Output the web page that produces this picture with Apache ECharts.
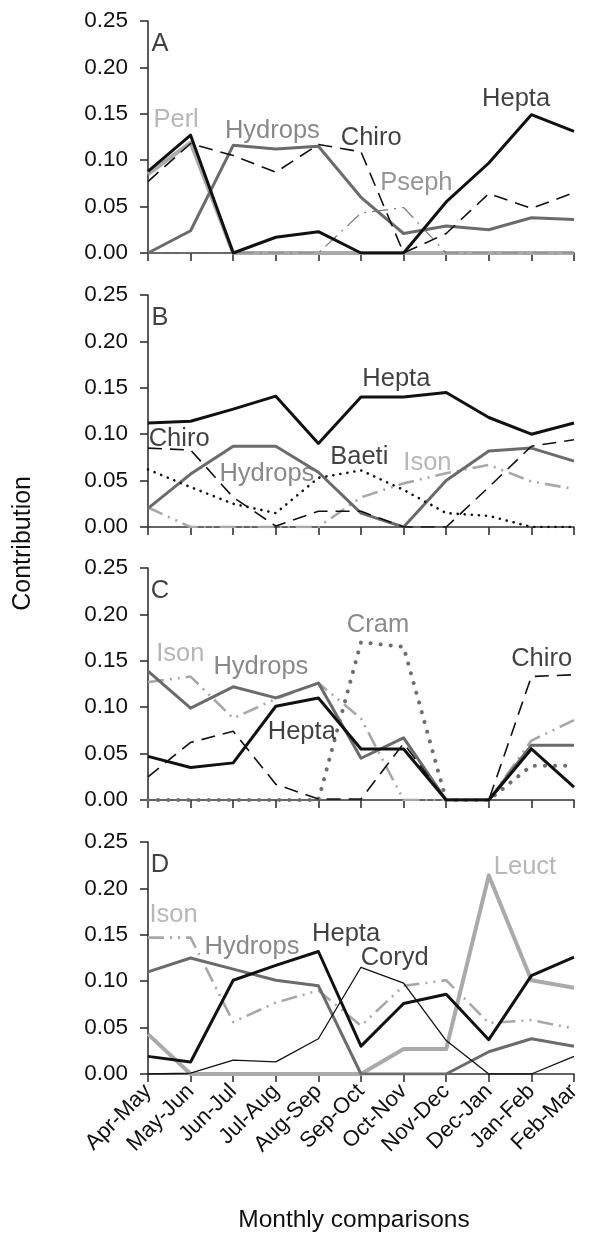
<!DOCTYPE html>
<html>
<head>
<meta charset="utf-8">
<script src="https://cdn.jsdelivr.net/npm/echarts@6/dist/echarts.min.js"></script>
<style>
html,body{margin:0;padding:0;background:#fff;}
#chart{width:592px;height:1237px;}
</style>
</head>
<body>
<div id="chart"></div>
<script>
// ---------- data ----------
const categories = ['Apr-May','May-Jun','Jun-Jul','Jul-Aug','Aug-Sep','Sep-Oct','Oct-Nov','Nov-Dec','Dec-Jan','Jan-Feb','Feb-Mar'];
const yTicks = [0, 0.05, 0.10, 0.15, 0.20, 0.25];
const panelNames = ['A','B','C','D'];

// Panel A
const aPerl    = [0.085,0.119,0,0,0,0,0,0,0,0,0];
const aHydrops = [0,0.024,0.116,0.112,0.115,0.060,0.021,0.029,0.025,0.038,0.036];
const aPseph   = [0,0,0,0,0,0.043,0.049,0,0,0,0];
const aChiro   = [0.077,0.118,0.105,0.087,0.117,0.109,0,0.021,0.064,0.048,0.065];
const aHepta   = [0.088,0.127,0,0.017,0.023,0,0,0.055,0.097,0.149,0.131];

// Panel B
const bIson    = [0.021,0,0,0,0,0.032,0.047,0.058,0.067,0.049,0.041];
const bHydrops = [0.020,0.057,0.087,0.087,0.059,0.015,0,0.050,0.082,0.085,0.071];
const bBaeti   = [0.062,0.043,0.025,0.015,0.053,0.061,0.040,0.015,0.012,0,0];
const bChiro   = [0.085,0.083,0.032,0.001,0.017,0.017,0,0,0.043,0.087,0.094];
const bHepta   = [0.112,0.114,0.127,0.141,0.090,0.140,0.140,0.145,0.118,0.100,0.112];

// Panel C
const cIson    = [0.127,0.133,0.088,0.109,0.126,0.088,0,0,0,0.064,0.086];
const cCram    = [0,0,0,0,0,0.170,0.165,0,0,0.037,0.037];
const cHydrops = [0.139,0.099,0.122,0.110,0.126,0.045,0.067,0,0,0.059,0.059];
const cChiro   = [0.025,0.062,0.074,0.017,0.001,0.001,0.061,0,0,0.133,0.135];
const cHepta   = [0.047,0.035,0.040,0.101,0.110,0.055,0.055,0,0,0.055,0.014];

// Panel D
const dLeuct   = [0.043,0,0,0,0,0,0.027,0.027,0.214,0.101,0.093];
const dIson    = [0.147,0.147,0.056,0.077,0.090,0.052,0.095,0.101,0.055,0.058,0.049];
const dHydrops = [0.110,0.125,0.113,0.101,0.095,0,0,0,0.024,0.038,0.030];
const dCoryd   = [0,0.001,0.015,0.013,0.038,0.115,0.098,0.036,0,0,0.019];
const dHepta   = [0.019,0.013,0.101,0.117,0.132,0.030,0.076,0.086,0.037,0.106,0.126];

// ---------- layout / styles ----------
const panels = [
  {series: [['Perl',aPerl],['Hydrops',aHydrops],['Pseph',aPseph],['Chiro',aChiro],['Hepta',aHepta]],
   labels: [['Perl',0.66,0.143],['Hydrops',2.92,0.132],['Chiro',5.24,0.124],['Pseph',6.30,0.075],['Hepta',8.64,0.166]]},
  {series: [['Ison',bIson],['Hydrops',bHydrops],['Baeti',bBaeti],['Chiro',bChiro],['Hepta',bHepta]],
   labels: [['Hepta',5.83,0.159],['Chiro',0.73,0.095],['Hydrops',2.79,0.057],['Baeti',4.96,0.075],['Ison',6.56,0.069]]},
  {series: [['Ison',cIson],['Cram',cCram],['Hydrops',cHydrops],['Chiro',cChiro],['Hepta',cHepta]],
   labels: [['Ison',0.76,0.157],['Hydrops',2.65,0.143],['Cram',5.40,0.189],['Chiro',9.24,0.152],['Hepta',3.61,0.073]]},
  {series: [['Leuct',dLeuct],['Ison',dIson],['Hydrops',dHydrops],['Coryd',dCoryd],['Hepta',dHepta]],
   labels: [['Ison',0.60,0.171],['Hydrops',2.44,0.137],['Hepta',4.65,0.151],['Coryd',5.79,0.125],['Leuct',8.85,0.223]]}
];
const gridTops = [21, 295, 568, 842];
const gridH = 232;
const FONT = '"Liberation Sans", Arial, Helvetica, sans-serif';

const styles = {
  Hepta:   {color:'#111111', width:3,   type:'solid'},
  Hydrops: {color:'#6b6b6b', width:3,   type:'solid'},
  Perl:    {color:'#aaaaaa', width:4,   type:'solid'},
  Leuct:   {color:'#aaaaaa', width:4,   type:'solid'},
  Chiro:   {color:'#111111', width:1.6, type:[14,8]},
  Pseph:   {color:'#7a7a7a', width:1.2, type:[16,6,2,6]},
  Baeti:   {color:'#111111', width:2.6, type:[0.1,7], cap:'round'},
  Ison:    {color:'#a8a8a8', width:2.6, type:[16,6,2,6,2,6]},
  Cram:    {color:'#6e6e6e', width:4,   type:[0.1,10], cap:'round'},
  Coryd:   {color:'#111111', width:1.3, type:'solid'}
};
const labelColors = {
  Hepta:'#111111', Chiro:'#111111', Baeti:'#111111', Coryd:'#111111',
  Hydrops:'#6b6b6b', Pseph:'#7a7a7a', Cram:'#6e6e6e',
  Perl:'#a5a5a5', Ison:'#a5a5a5', Leuct:'#a5a5a5'
};

const grids = [], xAxes = [], yAxes = [], series = [];
panels.forEach((p, i) => {
  grids.push({left:148, width:426, top:gridTops[i], height:gridH});
  const last = i === panels.length - 1;
  xAxes.push({
    type:'value', gridIndex:i, min:0, max:categories.length-1, interval:1, offset:3,
    axisLine:{show:true, lineStyle:{color:'#333', width:1.6}},
    axisTick:{show:true, length:8, lineStyle:{color:'#333', width:1.6}},
    splitLine:{show:false},
    axisLabel:{show:last, rotate:45, margin:11, fontSize:22, color:'#111', fontFamily:FONT,
      formatter: v => categories[v] || ''}
  });
  yAxes.push({
    type:'value', gridIndex:i, min:yTicks[0], max:yTicks[yTicks.length-1], interval:0.05,
    axisLine:{show:true, lineStyle:{color:'#333', width:1.6}},
    axisTick:{show:true, length:8, lineStyle:{color:'#333', width:1.6}},
    splitLine:{show:false},
    axisLabel:{margin:20, fontSize:22.5, color:'#111', fontFamily:FONT, formatter: v => v.toFixed(2)}
  });
  p.series.forEach(([name, vals]) => {
    const st = styles[name];
    series.push({
      type:'line', name:name, xAxisIndex:i, yAxisIndex:i,
      data: vals.map((v, k) => [k, v]),
      showSymbol:false, symbol:'none', silent:true, animation:false,
      lineStyle:{color:st.color, width:st.width, type:st.type, cap:st.cap || 'butt', join:'round'}
    });
  });
  // labels
  series.push({
    type:'scatter', xAxisIndex:i, yAxisIndex:i, silent:true, animation:false, z:10,
    symbolSize:0.1, itemStyle:{color:'rgba(0,0,0,0)'},
    data: p.labels.map(([t, x, y]) => ({name:t, value:[x, y],
      label:{color:labelColors[t]}})),
    label:{show:true, position:'inside', formatter:'{b}', fontSize:25.5, fontFamily:FONT}
  });
  // panel letter
  series.push({
    type:'scatter', xAxisIndex:i, yAxisIndex:i, silent:true, animation:false, z:10,
    symbolSize:0.1, itemStyle:{color:'rgba(0,0,0,0)'},
    data:[{name:panelNames[i], value:[0.28, 0.225]}],
    label:{show:true, position:'inside', formatter:'{b}', fontSize:25.5, color:'#111', fontFamily:FONT}
  });
});

const chart = echarts.init(document.getElementById('chart'), null, {renderer:'canvas'});
chart.setOption({
  backgroundColor:'#fff',
  animation:false,
  grid:grids, xAxis:xAxes, yAxis:yAxes, series:series,
  graphic:[
    {type:'text', left:11, top:476, rotation:Math.PI/2, silent:true,
     style:{text:'Contribution', font:'25px ' + FONT, fill:'#111'}},
    {type:'text', silent:true, x:354, y:1220,
     style:{text:'Monthly comparisons', font:'24.5px ' + FONT, fill:'#111', textAlign:'center', textVerticalAlign:'middle'}}
  ]
});
</script>
</body>
</html>
